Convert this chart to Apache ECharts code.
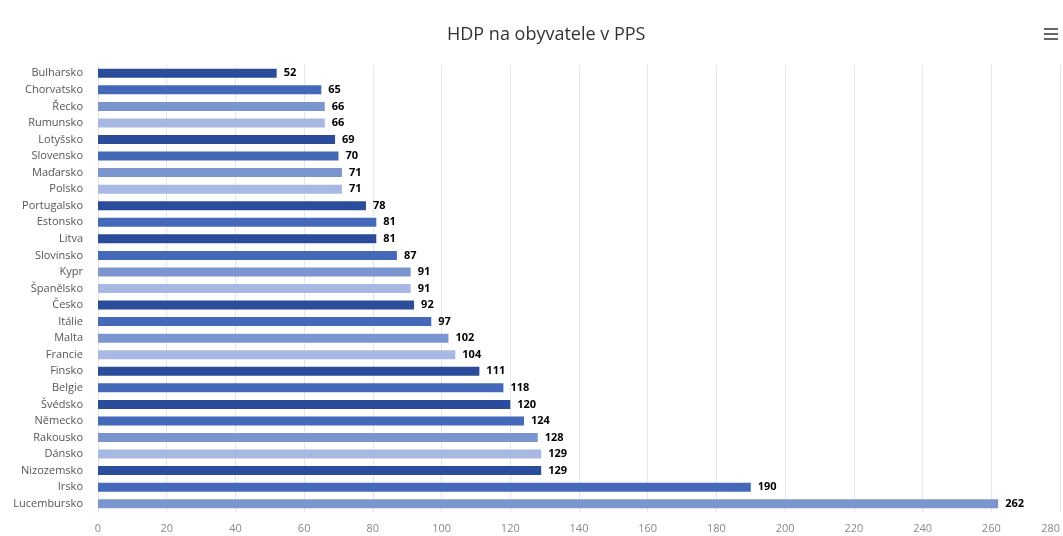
<!DOCTYPE html>
<html>
<head>
<meta charset="utf-8">
<script src="https://cdn.jsdelivr.net/npm/echarts@6/dist/echarts.min.js"></script>
<style>
  html, body { margin: 0; padding: 0; background: #fff; }
  #chart { width: 1063px; height: 536px; }
</style>
</head>
<body>
<div id="chart"></div>
<script>
// data, top to bottom
var countries = ['Bulharsko', 'Chorvatsko', 'Řecko', 'Rumunsko', 'Lotyšsko', 'Slovensko', 'Maďarsko', 'Polsko',
  'Portugalsko', 'Estonsko', 'Litva', 'Slovinsko', 'Kypr', 'Španělsko', 'Česko', 'Itálie', 'Malta', 'Francie',
  'Finsko', 'Belgie', 'Švédsko', 'Německo', 'Rakousko', 'Dánsko', 'Nizozemsko', 'Irsko', 'Lucembursko'];
var values = [52, 65, 66, 66, 69, 70, 71, 71, 78, 81, 81, 87, 91, 91, 92, 97, 102, 104, 111, 118, 120, 124, 128, 129, 129, 190, 262];
// shade index per bar (0 darkest .. 3 lightest)
var shades = [0, 1, 2, 3, 0, 1, 2, 3, 0, 1, 0, 1, 2, 3, 0, 1, 2, 3, 0, 1, 0, 1, 2, 3, 0, 1, 2];
var palette = ['#2b4c9b', '#4469b8', '#7b95cf', '#a7b9e2'];
var xTicks = { min: 0, max: 280, interval: 20 };

var font = 'Open Sans';
var chart = echarts.init(document.getElementById('chart'));

var barData = values.map(function (v, i) {
  return { value: v, itemStyle: { color: palette[shades[i]] } };
});

// the "hamburger" menu button in the top right corner
var menuLines = [0, 5, 10].map(function (dy) {
  return { type: 'rect', shape: { x: 1044, y: 28 + dy, width: 14, height: 2 }, style: { fill: '#666' } };
});

chart.setOption({
  backgroundColor: '#fff',
  animation: false,
  title: {
    text: 'HDP na obyvatele v PPS',
    left: 442,
    top: 21,
    textStyle: { fontFamily: font, fontSize: 18, fontWeight: 'normal', color: '#333' }
  },
  graphic: menuLines,
  grid: { left: 98, right: 0, top: 65, bottom: 24, containLabel: false },
  xAxis: {
    type: 'value',
    min: xTicks.min,
    max: xTicks.max,
    interval: xTicks.interval,
    axisLine: { show: false },
    axisTick: { show: false },
    splitLine: { show: true, lineStyle: { color: '#e6e6e6', width: 1 } },
    axisLabel: { color: '#888', fontFamily: font, fontSize: 11, margin: 11, alignMaxLabel: 'right' }
  },
  yAxis: {
    type: 'category',
    inverse: true,
    data: countries,
    axisLine: { show: true, lineStyle: { color: '#e6e6e6' } },
    axisTick: { show: false },
    axisLabel: { color: '#555', fontFamily: font, fontSize: 11, margin: 15 }
  },
  series: [{
    type: 'bar',
    data: barData,
    barWidth: 9,
    label: {
      show: true,
      position: 'right',
      distance: 7,
      color: '#000',
      fontFamily: font,
      fontWeight: 'bold',
      fontSize: 11
    }
  }]
});
</script>
</body>
</html>
